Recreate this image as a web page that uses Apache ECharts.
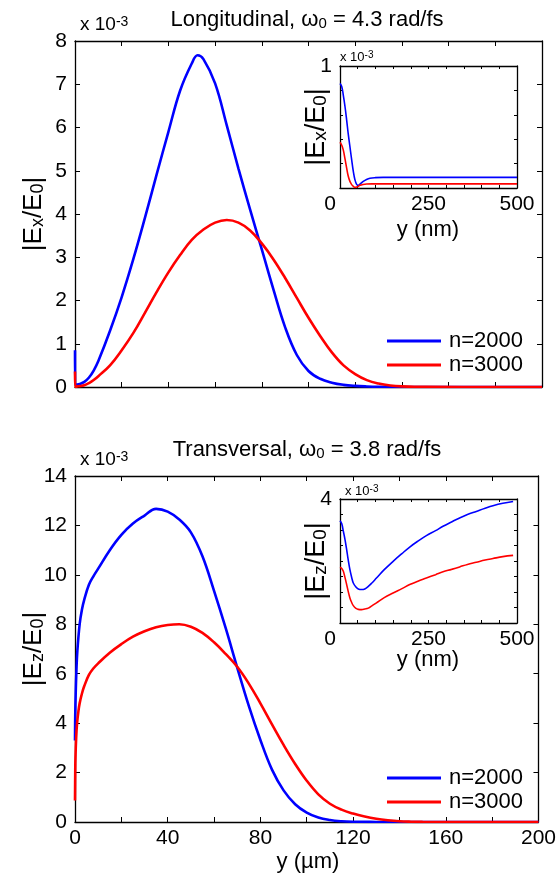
<!DOCTYPE html>
<html><head><meta charset="utf-8">
<script src="https://cdn.jsdelivr.net/npm/echarts@6/dist/echarts.min.js"></script>
<style>html,body{margin:0;padding:0;background:#fff}#c{width:559px;height:880px}</style>
</head><body><div id="c"></div>
<script>
// ---------- data ----------
// Top main (longitudinal), y in µm, |Ex/E0| in 1e-3
const topBlueX = [0, 0.05, 1, 2, 4, 6, 8, 10, 15, 20, 25, 30, 35, 40, 45, 50, 52.5, 55, 60, 65, 70, 75, 80, 85, 90, 95, 100, 105, 110, 115, 120, 125, 130, 140, 200];
const topBlueY = [0.85, 0.04, 0.06, 0.07, 0.12, 0.22, 0.38, 0.6, 1.3, 2.08, 2.96, 3.92, 4.92, 5.9, 6.85, 7.48, 7.67, 7.58, 7.02, 6.05, 5.05, 4.1, 3.18, 2.25, 1.38, 0.74, 0.37, 0.19, 0.1, 0.05, 0.025, 0.012, 0.005, 0.001, 0];
const topRedX = [0, 0.05, 1, 2, 4, 6, 8, 10, 15, 20, 25, 30, 35, 40, 45, 50, 55, 60, 65, 70, 75, 80, 85, 90, 95, 100, 105, 110, 115, 120, 125, 130, 135, 140, 150, 200];
const topRedY = [0.36, 0.005, 0.015, 0.02, 0.04, 0.09, 0.16, 0.25, 0.5, 0.85, 1.25, 1.72, 2.2, 2.65, 3.05, 3.4, 3.64, 3.8, 3.86, 3.8, 3.62, 3.32, 2.95, 2.52, 2.06, 1.6, 1.18, 0.8, 0.5, 0.3, 0.16, 0.08, 0.035, 0.015, 0.002, 0];
// Top inset, y in nm
const insTopBlueX = [0, 5, 9.4, 14, 18.8, 23, 28, 33, 37.6, 42, 47, 51.7, 58, 65.8, 75, 84.6, 100, 122, 200, 300, 400, 500];
const insTopBlueY = [0.856, 0.83, 0.76, 0.67, 0.557, 0.45, 0.34, 0.23, 0.136, 0.07, 0.03, 0.022, 0.035, 0.054, 0.07, 0.08, 0.085, 0.087, 0.087, 0.087, 0.087, 0.087];
const insTopRedX = [0, 5, 9.4, 14, 18.8, 23, 28, 33, 37.6, 42, 49, 56.4, 65, 75, 90, 120, 200, 300, 400, 500];
const insTopRedY = [0.375, 0.35, 0.31, 0.24, 0.163, 0.1, 0.054, 0.028, 0.014, 0.005, 0.01, 0.022, 0.029, 0.033, 0.034, 0.034, 0.034, 0.034, 0.034, 0.034];
// Bottom main (transversal), |Ez/E0| in 1e-3
const botBlueX = [0, 0.1, 0.3, 0.6, 1, 2, 3, 4, 6, 8, 10, 15, 20, 25, 30, 35, 40, 45, 50, 55, 60, 65, 70, 75, 80, 85, 90, 95, 100, 105, 110, 115, 120, 130, 140, 200];
const botBlueY = [3.3, 4.3, 5.2, 6.1, 6.9, 8.0, 8.6, 9.0, 9.6, 9.95, 10.25, 11.0, 11.62, 12.08, 12.4, 12.67, 12.56, 12.24, 11.72, 10.75, 9.35, 7.85, 6.25, 4.7, 3.32, 2.12, 1.28, 0.72, 0.38, 0.18, 0.08, 0.03, 0.01, 0.002, 0, 0];
const botRedX = [0, 0.1, 0.2, 0.5, 0.9, 1.5, 2, 3, 4, 6, 8, 10, 15, 20, 25, 30, 35, 40, 45, 50, 55, 60, 65, 70, 75, 80, 85, 90, 95, 100, 105, 110, 115, 120, 125, 130, 135, 140, 145, 150, 200];
const botRedY = [0.87, 2.0, 2.6, 3.4, 4.0, 4.5, 4.8, 5.2, 5.5, 5.95, 6.22, 6.42, 6.85, 7.2, 7.5, 7.72, 7.88, 7.97, 8.0, 7.9, 7.65, 7.27, 6.8, 6.28, 5.6, 4.8, 3.95, 3.12, 2.35, 1.67, 1.12, 0.74, 0.5, 0.34, 0.22, 0.13, 0.07, 0.03, 0.012, 0.004, 0];
// Bottom inset, y in nm
const insBotX = [0, 5, 9.4, 14, 18.8, 23, 28, 33, 37.6, 45, 51.7, 61, 70, 80, 90, 103, 125, 150, 175, 197, 220, 244, 270, 291, 315, 338, 360, 385, 410, 432, 460, 489];
const insBotBlueY = [3.3, 3.2, 2.96, 2.7, 2.37, 2.05, 1.72, 1.47, 1.29, 1.16, 1.1, 1.08, 1.1, 1.18, 1.29, 1.45, 1.72, 1.99, 2.24, 2.45, 2.64, 2.82, 2.98, 3.12, 3.26, 3.39, 3.5, 3.6, 3.7, 3.78, 3.86, 3.92];
const insBotRedY = [1.8, 1.76, 1.67, 1.47, 1.24, 1.03, 0.81, 0.66, 0.56, 0.47, 0.44, 0.43, 0.45, 0.48, 0.55, 0.65, 0.82, 0.97, 1.11, 1.24, 1.35, 1.45, 1.56, 1.65, 1.73, 1.81, 1.89, 1.96, 2.03, 2.08, 2.14, 2.18];
// names / ticks
const seriesNames = ['n=2000', 'n=3000'];
const mainXTicks = [0, 40, 80, 120, 160, 200];
const insetXTicks = [0, 250, 500];

// ---------- build ----------
const zip = (a, b) => a.map((v, i) => [v, b[i]]);
const FONT = "'Liberation Sans', Arial, sans-serif";
const BLUE = '#0000ff', RED = '#ff0000';
const chart = echarts.init(document.getElementById('c'), null, {renderer: 'canvas'});

const axLine = {show: true, onZero: false, lineStyle: {color: '#000', width: 1.3}};
function xAx(grid, min, max, interval, pos, labels, tickLen, fs, labelFmt) {
  return {type: 'value', gridIndex: grid, min, max, interval, position: pos,
    axisLine: axLine, splitLine: {show: false},
    axisTick: {show: true, inside: true, length: tickLen, lineStyle: {color: '#000', width: 1}},
    axisLabel: labels ? {show: true, color: '#000', fontFamily: FONT, fontSize: fs, margin: 6, formatter: labelFmt, rich: {l: {fontFamily: FONT, fontSize: fs, color: '#000', padding: [0, 20, 0, 0]}}} : {show: false}};
}
function yAx(grid, min, max, interval, pos, labels, tickLen, fs, labelFmt) {
  return {type: 'value', gridIndex: grid, min, max, interval, position: pos,
    axisLine: axLine, splitLine: {show: false},
    axisTick: {show: true, inside: true, length: tickLen, lineStyle: {color: '#000', width: 1}},
    axisLabel: labels ? {show: true, color: '#000', fontFamily: FONT, fontSize: fs, margin: 8, formatter: labelFmt} : {show: false}};
}
const mainXFmt = v => mainXTicks.includes(v) ? String(v) : '';
const insXFmt = v => v === 0 ? '{l|0}' : (insetXTicks.includes(v) ? String(v) : '');

const grids = [
  {left: 75, top: 41, width: 467, height: 346},
  {left: 340, top: 66, width: 177, height: 122, show: true, backgroundColor: '#fff', borderWidth: 0},
  {left: 75, top: 476, width: 467, height: 346},
  {left: 340, top: 499, width: 177, height: 124, show: true, backgroundColor: '#fff', borderWidth: 0}
];
const xAxes = [
  xAx(0, 0, 200, 20, 'bottom', false, 5, 21),
  xAx(0, 0, 200, 20, 'top', false, 5, 21),
  xAx(1, 0, 500, 50, 'bottom', true, 3, 21, insXFmt),
  xAx(1, 0, 500, 50, 'top', false, 3, 21),
  xAx(2, 0, 200, 20, 'bottom', true, 5, 21, mainXFmt),
  xAx(2, 0, 200, 20, 'top', false, 5, 21),
  xAx(3, 0, 500, 50, 'bottom', true, 3, 21, insXFmt),
  xAx(3, 0, 500, 50, 'top', false, 3, 21)
];
const yAxes = [
  yAx(0, 0, 8, 1, 'left', true, 5, 21),
  yAx(0, 0, 8, 1, 'right', false, 5, 21),
  yAx(1, 0, 1, 0.2, 'left', true, 3, 21, v => v === 1 ? '1' : ''),
  yAx(1, 0, 1, 0.2, 'right', false, 3, 21),
  yAx(2, 0, 14, 2, 'left', true, 5, 21),
  yAx(2, 0, 14, 2, 'right', false, 5, 21),
  yAx(3, 0, 4, 0.5, 'left', true, 3, 21, v => v === 4 ? '4' : ''),
  yAx(3, 0, 4, 0.5, 'right', false, 3, 21)
];
function ln(name, color, xi, yi, data, w, z) {
  return {type: 'line', name, color, xAxisIndex: xi, yAxisIndex: yi, data, showSymbol: false, symbol: 'none',
    smooth: 0.4, lineStyle: {color, width: w}, z, animation: false, clip: true};
}
const series = [
  ln(seriesNames[0], BLUE, 0, 0, zip(topBlueX, topBlueY), 2.6, 2),
  ln(seriesNames[1], RED, 0, 0, zip(topRedX, topRedY), 2.6, 3),
  ln(seriesNames[0], BLUE, 2, 2, zip(insTopBlueX, insTopBlueY), 1.6, 5),
  ln(seriesNames[1], RED, 2, 2, zip(insTopRedX, insTopRedY), 1.6, 6),
  ln(seriesNames[0], BLUE, 4, 4, zip(botBlueX, botBlueY), 2.6, 2),
  ln(seriesNames[1], RED, 4, 4, zip(botRedX, botRedY), 2.6, 3),
  ln(seriesNames[0], BLUE, 6, 6, zip(insBotX, insBotBlueY), 1.6, 5),
  ln(seriesNames[1], RED, 6, 6, zip(insBotX, insBotRedY), 1.6, 6)
];
const legendBase = {orient: 'vertical', left: 382, icon: 'rect', itemWidth: 54, itemHeight: 3, itemGap: 2,
  data: seriesNames, selectedMode: false,
  textStyle: {fontFamily: FONT, fontSize: 22, color: '#000', lineHeight: 22, padding: [0, 0, 0, 3]}};
const legends = [Object.assign({top: 325}, legendBase), Object.assign({top: 762}, legendBase)];

const rich = (fs) => ({
  b: {fontFamily: FONT, fontSize: fs, fill: '#000', color: '#000'},
  s: {fontFamily: FONT, fontSize: Math.round(fs * 0.7), verticalAlign: 'bottom', color: '#000', fill: '#000'},
  p: {fontFamily: FONT, fontSize: Math.round(fs * 0.75), verticalAlign: 'top', color: '#000', fill: '#000'}
});
function gtext(x, y, text, fs, align, rot) {
  return {type: 'text', x, y, silent: true, rotation: rot || 0,
    style: {text, fontFamily: FONT, fontSize: fs, fill: '#000', rich: rich(fs), align: align || 'center', verticalAlign: 'middle'}};
}
const R = Math.PI / 2;
const graphics = [
  gtext(307, 20, '{b|Longitudinal, ω}{s|0}{b| = 4.3 rad/fs}', 22),
  gtext(80, 25, '{b|x 10}{p|-3}', 19, 'left'),
  gtext(34, 214, '{b||E}{s|x}{b|/E}{s|0}{b||}', 26, 'center', R),
  gtext(340, 57, '{b|x 10}{p|-3}', 13, 'left'),
  gtext(317, 127, '{b||E}{s|x}{b|/E}{s|0}{b||}', 27, 'center', R),
  gtext(428, 230, 'y (nm)', 22),
  gtext(307, 450, '{b|Transversal, ω}{s|0}{b| = 3.8 rad/fs}', 22),
  gtext(80, 460, '{b|x 10}{p|-3}', 19, 'left'),
  gtext(34, 649, '{b||E}{s|z}{b|/E}{s|0}{b||}', 26, 'center', R),
  gtext(345, 491, '{b|x 10}{p|-3}', 13, 'left'),
  gtext(317, 561, '{b||E}{s|z}{b|/E}{s|0}{b||}', 27, 'center', R),
  gtext(428, 660, 'y (nm)', 22),
  gtext(308, 862, 'y (µm)', 22)
];

chart.setOption({
  animation: false, backgroundColor: '#fff',
  grid: grids, xAxis: xAxes, yAxis: yAxes, series, legend: legends, graphic: graphics
});
</script></body></html>
